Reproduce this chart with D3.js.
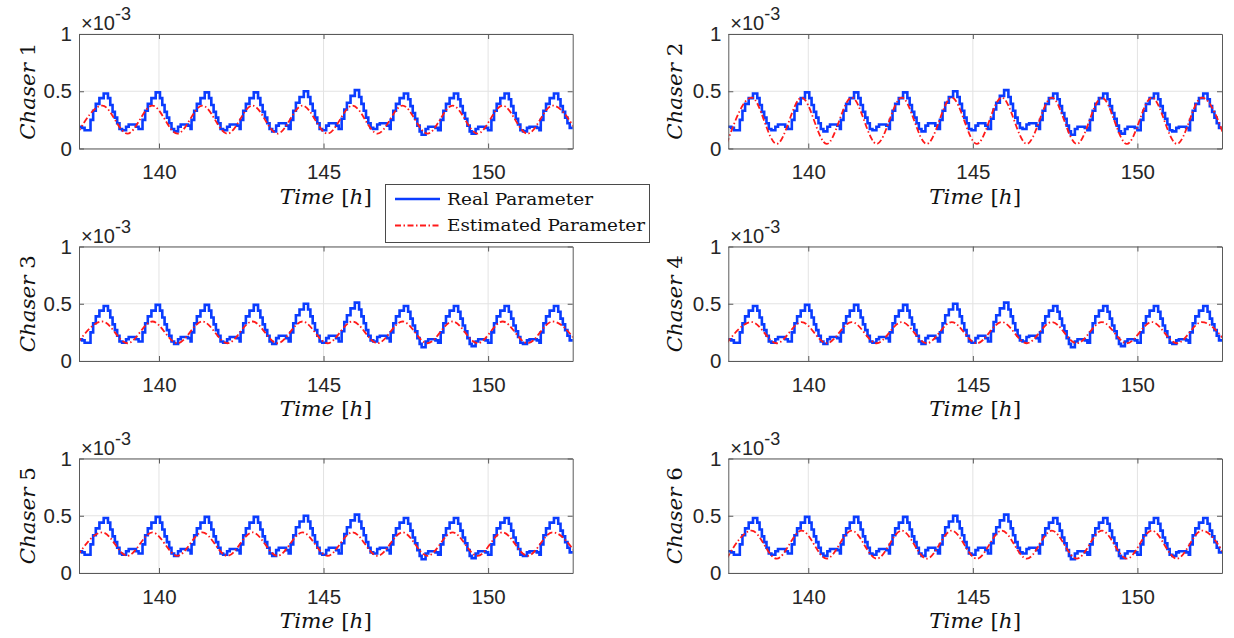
<!DOCTYPE html>
<html><head><meta charset="utf-8">
<script src="https://cdn.jsdelivr.net/npm/d3@7"></script>
<style>body{margin:0;background:#fff}svg{display:block}</style></head>
<body><svg id="c" width="1234" height="638"></svg>
<script>
// ---- data ----
const chaserNames = ["Chaser 1","Chaser 2","Chaser 3","Chaser 4","Chaser 5","Chaser 6"];
const xTicks = [140,145,150];
const yTicks = [0,0.5,1];
const yTickLabels = ["0","0.5","1"];
const xDomain = [137.57,152.57];
const yDomain = [0,1];
const legendLabels = ["Real Parameter","Estimated Parameter"];

// real parameter (×10^-3), staircase, shared by all chasers
const blueTimes = [
137.50,137.66,137.74,137.92,138.00,138.08,138.19,
138.32,138.45,138.52,138.59,138.66,138.73,138.80,138.88,139.00,139.08,139.30,139.38,
139.50,139.58,139.66,139.77,
139.90,140.03,140.10,140.17,140.24,140.31,140.38,140.46,140.58,140.66,140.88,140.96,
140.99,141.07,141.15,141.26,
141.39,141.52,141.59,141.66,141.73,141.80,141.87,141.95,142.07,142.15,142.37,142.45,
142.48,142.56,142.64,142.75,
142.88,143.01,143.08,143.15,143.22,143.29,143.36,143.44,143.56,143.64,143.86,143.94,
144.00,144.08,144.16,144.27,
144.40,144.53,144.60,144.67,144.74,144.81,144.88,144.96,145.08,145.16,145.38,145.46,
145.55,145.63,145.71,145.82,
145.95,146.08,146.15,146.22,146.29,146.36,146.43,146.51,146.63,146.71,146.93,147.01,
147.04,147.12,147.20,147.31,
147.44,147.57,147.64,147.71,147.78,147.85,147.92,147.98,148.10,148.18,148.40,148.48,
148.56,148.64,148.72,148.83,
148.96,149.09,149.16,149.23,149.30,149.37,149.44,149.50,149.62,149.70,149.92,150.00,
150.10,150.18,150.26,150.37,
150.50,150.63,150.70,150.77,150.84,150.91,150.98,151.06,151.18,151.26,151.48,151.56,
151.60,151.68,151.76,151.87,
152.00,152.13,152.20,152.27,152.34,152.41,152.48,152.60];
const blueValues = [
0.19,0.18,0.16,0.25,0.33,0.39,0.44,
0.48,0.44,0.38,0.32,0.27,0.22,0.17,0.16,0.19,0.21,0.19,0.17,
0.25,0.33,0.39,0.44,
0.49,0.44,0.38,0.32,0.27,0.22,0.17,0.15,0.19,0.21,0.20,0.17,
0.25,0.33,0.39,0.44,
0.49,0.44,0.38,0.32,0.27,0.22,0.17,0.16,0.19,0.21,0.20,0.17,
0.25,0.33,0.39,0.44,
0.49,0.44,0.38,0.32,0.27,0.22,0.17,0.15,0.20,0.22,0.20,0.17,
0.25,0.33,0.40,0.45,
0.50,0.45,0.39,0.33,0.27,0.22,0.17,0.16,0.20,0.22,0.20,0.17,
0.26,0.34,0.40,0.46,
0.51,0.45,0.39,0.33,0.27,0.22,0.18,0.17,0.21,0.22,0.20,0.17,
0.25,0.33,0.39,0.44,
0.48,0.43,0.37,0.31,0.26,0.20,0.15,0.12,0.17,0.19,0.18,0.16,
0.25,0.33,0.39,0.44,
0.48,0.43,0.37,0.31,0.26,0.20,0.15,0.13,0.17,0.19,0.18,0.16,
0.25,0.33,0.39,0.44,
0.48,0.43,0.37,0.31,0.26,0.21,0.16,0.15,0.18,0.19,0.18,0.16,
0.25,0.33,0.39,0.44,
0.48,0.43,0.37,0.32,0.27,0.22,0.18,0.18];

// estimated parameter: extrema (trough, peak, trough, ...)
const redTimes = [137.52,138.28,139.04,139.80,140.56,141.32,142.08,142.84,143.60,144.36,145.12,
                  145.88,146.64,147.40,148.16,148.92,149.68,150.44,151.20,151.96,152.72];
const red1 = [0.13,0.375,0.13,0.375,0.13,0.375,0.13,0.375,0.13,0.375,0.13,0.375,0.13,0.375,0.13,0.375,0.13,0.375,0.13,0.375,0.13];
const red2 = [0.04,0.445,0.04,0.445,0.04,0.445,0.04,0.445,0.04,0.445,0.04,0.445,0.04,0.445,0.04,0.445,0.04,0.445,0.04,0.445,0.04];
const red3 = [0.155,0.345,0.155,0.345,0.155,0.345,0.155,0.345,0.155,0.345,0.155,0.345,0.155,0.345,0.155,0.345,0.155,0.345,0.155,0.345,0.155];
const red4 = [0.155,0.34,0.155,0.34,0.155,0.34,0.155,0.34,0.155,0.34,0.155,0.34,0.155,0.34,0.155,0.34,0.155,0.34,0.155,0.34,0.155];
const red5 = [0.15,0.355,0.15,0.355,0.15,0.355,0.15,0.355,0.15,0.355,0.15,0.355,0.15,0.355,0.15,0.355,0.15,0.355,0.15,0.355,0.15];
const red6 = [0.125,0.37,0.125,0.37,0.125,0.37,0.125,0.37,0.125,0.37,0.125,0.37,0.125,0.37,0.125,0.37,0.125,0.37,0.125,0.37,0.125];
const redSeries = [red1,red2,red3,red4,red5,red6];

// ---- layout ----
const colLeft = [79, 728.3];
const plotW = 493.7;
const rowTop = [34, 246.5, 458.5];
const plotH = 114.5;
const labelX = [35, 682];
const BLUE = "#0a3cff", RED = "#ff1a1a";
const SERIF = "'DejaVu Serif','Liberation Serif',serif";
const SANS = "'Liberation Sans',Arial,sans-serif";

const svg = d3.select("#c");
svg.append("rect").attr("width",1234).attr("height",638).attr("fill","#fff");

const blueData = blueTimes.map((t,i)=>({t, v: blueValues[i]}));

chaserNames.forEach((name, idx) => {
  const col = idx % 2, row = Math.floor(idx/2);
  const L = colLeft[col], T = rowTop[row];
  const x = d3.scaleLinear().domain(xDomain).range([L, L+plotW]);
  const y = d3.scaleLinear().domain(yDomain).range([T+plotH, T]);
  const g = svg.append("g");

  // grid
  const grid = g.append("g").attr("stroke","#e3e3e3").attr("stroke-width",1);
  xTicks.forEach(v=>grid.append("line").attr("x1",x(v)).attr("x2",x(v)).attr("y1",T).attr("y2",T+plotH));
  yTicks.forEach(v=>grid.append("line").attr("x1",L).attr("x2",L+plotW).attr("y1",y(v)).attr("y2",y(v)));

  // data
  const cid = "clip"+idx;
  svg.append("clipPath").attr("id",cid).append("rect")
    .attr("x",L).attr("y",T).attr("width",plotW).attr("height",plotH);
  const dg = g.append("g").attr("clip-path",`url(#${cid})`);
  dg.append("path").datum(blueData)
    .attr("d", d3.line().x(d=>x(d.t)).y(d=>y(d.v)).curve(d3.curveStepAfter))
    .attr("fill","none").attr("stroke",BLUE).attr("stroke-width",2.6).attr("stroke-linejoin","miter");
  const redData = redTimes.map((t,i)=>({t, v: redSeries[idx][i]}));
  dg.append("path").datum(redData)
    .attr("d", d3.line().x(d=>x(d.t)).y(d=>y(d.v)).curve(d3.curveMonotoneX))
    .attr("fill","none").attr("stroke",RED).attr("stroke-width",1.8)
    .attr("stroke-dasharray","6,2.5,1.5,2.5");

  // axes
  const axB = g.append("g").attr("transform",`translate(0,${T+plotH})`)
    .call(d3.axisBottom(x).tickValues(xTicks).tickSizeInner(-5).tickSizeOuter(0).tickPadding(16).tickFormat(d3.format("d")));
  const axT = g.append("g").attr("transform",`translate(0,${T})`)
    .call(d3.axisTop(x).tickValues(xTicks).tickSizeInner(-5).tickSizeOuter(0).tickFormat(""));
  const axL = g.append("g").attr("transform",`translate(${L},0)`)
    .call(d3.axisLeft(y).tickValues(yTicks).tickSizeInner(-5).tickSizeOuter(0).tickPadding(7).tickFormat((d,i)=>yTickLabels[i]));
  const axR = g.append("g").attr("transform",`translate(${L+plotW},0)`)
    .call(d3.axisRight(y).tickValues(yTicks).tickSizeInner(-5).tickSizeOuter(0).tickFormat(""));
  [axB,axT,axL,axR].forEach(a=>{
    a.select(".domain").attr("stroke","#5a5a5a");
    a.selectAll(".tick line").attr("stroke","#5a5a5a");
    a.selectAll("text").attr("font-family",SANS).attr("font-size",20.5).attr("fill","#262626");
  });

  // exponent label
  const ex = g.append("text").attr("x",L+2).attr("y",T-4)
    .attr("font-family",SANS).attr("font-size",20).attr("fill","#262626");
  ex.append("tspan").text("×10");
  ex.append("tspan").attr("dy",-10).attr("font-size",18).text("-3");

  // x label
  const xl = g.append("text").attr("x",L+plotW/2).attr("y",T+plotH+55)
    .attr("text-anchor","middle").attr("font-family",SERIF).attr("font-size",21).attr("fill","#111")
    .attr("textLength",92).attr("lengthAdjust","spacingAndGlyphs");
  xl.append("tspan").attr("font-style","italic").text("Time");
  xl.append("tspan").text(" [");
  xl.append("tspan").attr("font-style","italic").text("h");
  xl.append("tspan").text("]");

  // y label
  const parts = name.split(" ");
  const yl = g.append("text").attr("transform",`translate(${labelX[col]},${T+plotH/2}) rotate(-90)`)
    .attr("text-anchor","middle").attr("font-family",SERIF).attr("font-size",21).attr("fill","#111")
    .attr("textLength",97).attr("lengthAdjust","spacingAndGlyphs");
  yl.append("tspan").attr("font-style","italic").text(parts[0]);
  yl.append("tspan").text(" " + parts[1]);
});

// ---- legend ----
const lg = svg.append("g");
lg.append("rect").attr("x",385.5).attr("y",184.5).attr("width",264).attr("height",58)
  .attr("fill","#fff").attr("stroke","#4a4a4a").attr("stroke-width",1);
lg.append("line").attr("x1",395).attr("x2",440).attr("y1",199).attr("y2",199)
  .attr("stroke",BLUE).attr("stroke-width",2.6);
lg.append("line").attr("x1",395).attr("x2",440).attr("y1",225.5).attr("y2",225.5)
  .attr("stroke",RED).attr("stroke-width",1.8).attr("stroke-dasharray","6,2.5,1.5,2.5");
const legW = [146,198];
legendLabels.forEach((s,i)=>{
  lg.append("text").attr("x",447).attr("y",205+i*26).attr("font-family",SERIF).attr("font-size",17.5)
    .attr("fill","#111").attr("textLength",legW[i]).attr("lengthAdjust","spacingAndGlyphs").text(s);
});
</script>
</body></html>
